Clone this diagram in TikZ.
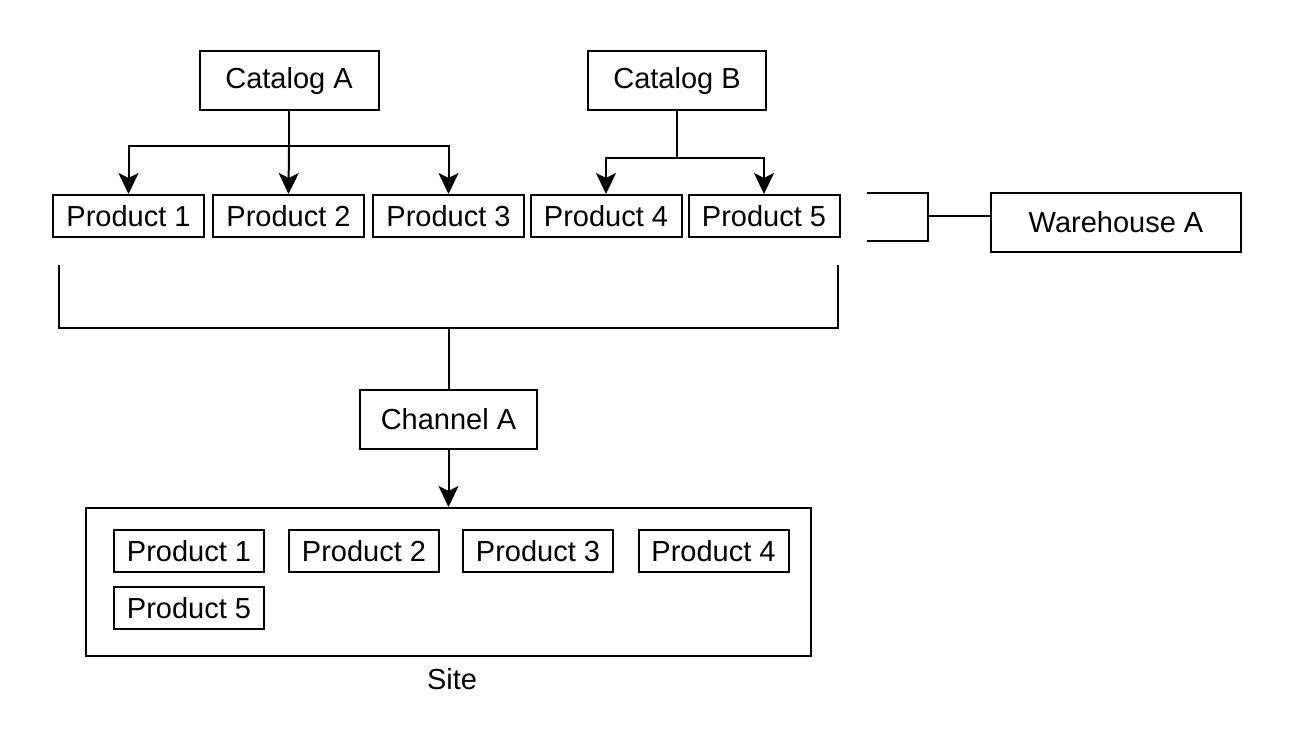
\documentclass[tikz,border=0pt]{standalone}
\usepackage{fontspec}
\setmainfont{Liberation Sans}
\usetikzlibrary{arrows.meta}
\begin{document}
\begin{tikzpicture}[x=1pt,y=-1pt,
  line width=2pt,
  font=\fontsize{29}{34}\selectfont,
  box/.style={draw,rectangle,inner sep=0pt,line width=2pt},
  bigbox/.style={box,minimum width=179pt,minimum height=59pt},
  prod/.style={box,minimum width=151pt,minimum height=42pt},
  sprod/.style={box,minimum width=150pt,minimum height=42pt},
  arr/.style={-{Stealth[length=21pt,width=20pt,inset=5pt]},line width=2pt},
  wire/.style={line width=2pt}]
\useasboundingbox (0,0) rectangle (1304,737);
% catalogs
\node[bigbox] (catA) at (289,80.5) {Catalog A};
\node[bigbox,minimum width=178pt] (catB) at (677,80.5) {Catalog B};
% products
\node[prod] (p1) at (128.5,216) {Product 1};
\node[prod] (p2) at (288.5,216) {Product 2};
\node[prod] (p3) at (448.5,216) {Product 3};
\node[prod] (p4) at (606,216) {Product 4};
\node[prod] (p5) at (764,216) {Product 5};
% warehouse
\node[box,minimum width=250pt,minimum height=59pt] (wh) at (1116,222) {Warehouse A};
% channel
\node[bigbox,minimum width=177pt] (ch) at (448.5,419.5) {Channel A};
% site
\node[box,minimum width=725pt,minimum height=148pt] (site) at (448.5,582) {};
\node[sprod] (s1) at (189,551) {Product 1};
\node[sprod] (s2) at (364,551) {Product 2};
\node[sprod] (s3) at (538,551) {Product 3};
\node[sprod] (s4) at (713.5,551) {Product 4};
\node[sprod] (s5) at (189,608) {Product 5};
\node (sitelbl) at (452,679) {Site};
% catalog A connectors
\coordinate (ja) at (289,146);
\draw[wire] (catA.south) -- (ja);
\draw[arr] (ja) -| (p1.north);
\draw[arr] (ja) -- (p2.north);
\draw[arr] (ja) -| (p3.north);
% catalog B connectors
\coordinate (jb) at (677,158);
\draw[wire] (catB.south) -- (jb);
\draw[arr] (jb) -| (p4.north);
\draw[arr] (jb) -| (p5.north);
% warehouse bracket
\coordinate (w1) at (867,193);
\coordinate (w2) at (928,193);
\coordinate (w3) at (928,241);
\coordinate (w4) at (867,241);
\coordinate (wm) at (928,216);
\draw[wire] (w1) -- (w2) -- (w3) -- (w4);
\draw[wire] (wm) -- (wm -| wh.west);
% bottom bracket
\coordinate (c1) at (59,265);
\coordinate (c2) at (59,328);
\coordinate (c3) at (838,328);
\coordinate (c4) at (838,265);
\coordinate (cm) at (448.5,328);
\draw[wire] (c1) -- (c2) -- (c3) -- (c4);
\draw[wire] (cm) -- (ch.north);
\draw[arr] (ch.south) -- (site.north);
\end{tikzpicture}
\end{document}
